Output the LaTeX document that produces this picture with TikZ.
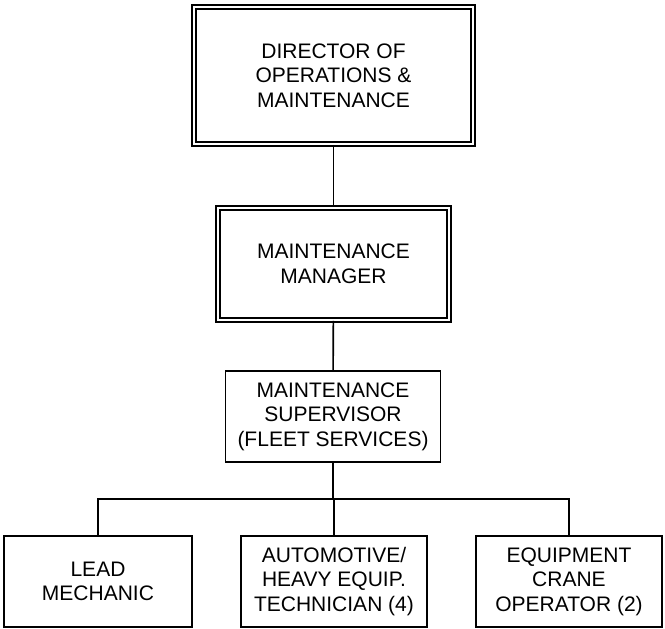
\documentclass[tikz,border=0pt]{standalone}
\usepackage{fontspec}
\setmainfont{Liberation Sans}

\begin{document}
\begin{tikzpicture}[
  x=1pt, y=-1pt,
  font=\fontsize{21}{24.5}\selectfont,
  headbox/.style={
    rectangle,
    draw=black,
    line width=1.6pt,
    double,
    double distance=2.4pt,
    align=center,
    inner sep=0pt
  },
  unitbox/.style={
    rectangle,
    draw=black,
    line width=1.6pt,
    align=center,
    inner sep=0pt,
    minimum height=91pt
  },
  link/.style={line width=1.6pt, draw=black}
]
  \useasboundingbox (0,0) rectangle (665,629);

  \node[headbox, minimum width=279pt, minimum height=137pt] (director) at (333.5,75.5)
    {DIRECTOR OF\\OPERATIONS \&\\MAINTENANCE};
  \node[headbox, minimum width=231pt, minimum height=112pt] (manager) at (333.5,264)
    {MAINTENANCE\\MANAGER};
  \node[unitbox, minimum width=215pt] (super) at (333,416.5)
    {MAINTENANCE\\SUPERVISOR\\(FLEET SERVICES)};

  \node[unitbox, minimum width=188pt] (lead)  at (98,581.5)  {LEAD\\MECHANIC};
  \node[unitbox, minimum width=186pt] (tech)  at (334,581.5) {AUTOMOTIVE/\\HEAVY EQUIP.\\TECHNICIAN (4)};
  \node[unitbox, minimum width=186pt] (crane) at (569,581.5) {EQUIPMENT\\CRANE\\OPERATOR (2)};

  \coordinate (split) at (334,499);

  \draw[link] (director) -- (manager);
  \draw[link] (manager) -- (super);
  \draw[link] (super.south) -- (super.south |- split);
  \draw[link] (lead.north) |- (split) -| (crane.north);
  \draw[link] (split) -- (tech.north);
\end{tikzpicture}
\end{document}
